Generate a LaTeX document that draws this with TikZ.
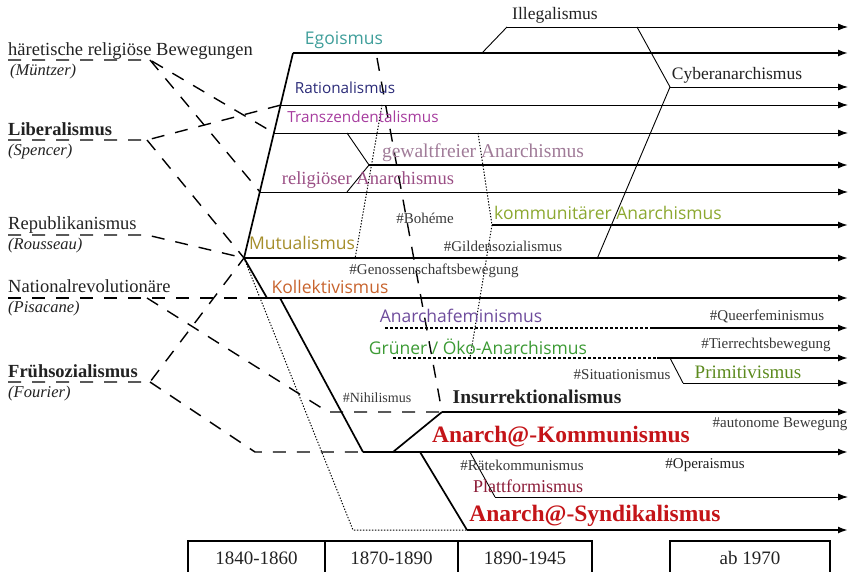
\documentclass[tikz,border=0pt]{standalone}
\usepackage{fontspec}
\setmainfont{Liberation Serif}
\newfontfamily\sansfam{Open Sans}
\usetikzlibrary{arrows.meta,positioning}

\definecolor{egocol}{HTML}{3F9E9A}
\definecolor{ratcol}{HTML}{2B2B78}
\definecolor{tracol}{HTML}{A63C9E}
\definecolor{gewcol}{HTML}{A07B98}
\definecolor{relcol}{HTML}{9A4E84}
\definecolor{gemcol}{HTML}{8CA830}
\definecolor{mutcol}{HTML}{A58E2A}
\definecolor{kolcol}{HTML}{C8642E}
\definecolor{femcol}{HTML}{6E4C9C}
\definecolor{oekcol}{HTML}{3C9A34}
\definecolor{pricol}{HTML}{5C8A1E}
\definecolor{redcol}{HTML}{C41418}
\definecolor{placol}{HTML}{8C1C38}
\definecolor{tagcol}{HTML}{383838}
\definecolor{inkcol}{HTML}{222222}

\begin{document}
\begin{tikzpicture}[x=1pt,y=-1pt,
		>={Latex[length=10pt,width=7pt]},
		every node/.style={inner sep=0pt,text=inkcol},
		src/.style={anchor=base west,font=\fontsize{18.5}{20}\selectfont},
		srcb/.style={anchor=base west,font=\fontsize{18.5}{20}\selectfont\bfseries},
		who/.style={anchor=base west,font=\fontsize{16.5}{18}\selectfont\itshape},
		trend/.style={font=\fontsize{17.5}{19}\selectfont\sansfam},
		trendsm/.style={font=\fontsize{15.3}{17}\selectfont\sansfam},
		branch/.style={font=\fontsize{18.5}{20}\selectfont},
		tag/.style={font=\fontsize{15}{17}\selectfont,text=tagcol},
		big/.style={font=\fontsize{23.5}{26}\selectfont\bfseries,text=redcol},
		infl/.style={line width=1.4pt,dash pattern=on 13pt off 11pt},
		trace/.style={line width=1pt,dash pattern=on 1.3pt off 1.7pt},
		weak/.style={line width=1.6pt,dash pattern=on 3pt off 2pt},
		side/.style={line width=0.9pt},
		main/.style={line width=1.7pt},
		heavy/.style={line width=2.5pt},
		year/.style={draw,line width=1.5pt,minimum height=34pt,font=\fontsize{19}{21}\selectfont}
	]
	\useasboundingbox (0,0) rectangle (856,572);

	\coordinate (R)    at (848,0);
	\coordinate (hub)  at (244,258);
	\coordinate (ego0) at (293,53);
	\coordinate (rat0) at (281,105);
	\coordinate (tra0) at (274,133);
	\coordinate (rel0) at (260,192);
	\coordinate (gew1) at (347,133);
	\coordinate (gew0) at (369,165);
	\coordinate (gew2) at (347,192);
	\coordinate (ill1) at (482,53);
	\coordinate (ill0) at (507,27);
	\coordinate (cyb1) at (637,27);
	\coordinate (cyb0) at (670,87);
	\coordinate (cyb2) at (597,259);
	\coordinate (mut1) at (382,105);
	\coordinate (mut2) at (355,259);
	\coordinate (gem1) at (478,133);
	\coordinate (gem0) at (492,225);
	\coordinate (gem2) at (470,358);
	\coordinate (kol0) at (250,298);
	\coordinate (kol1) at (267,298);
	\coordinate (kol2) at (280,298);
	\coordinate (kom0) at (363,452);
	\coordinate (fem0) at (385,328);
	\coordinate (fem1) at (650,328);
	\coordinate (oek0) at (393,358);
	\coordinate (oek1) at (657,358);
	\coordinate (pri1) at (670,358);
	\coordinate (pri0) at (683,383);
	\coordinate (ins1) at (393,452);
	\coordinate (ins0) at (442,412);
	\coordinate (nih0) at (328,412);
	\coordinate (ego2) at (377,58);
	\coordinate (syn1) at (420,452);
	\coordinate (syn0) at (467,530);
	\coordinate (syn2) at (353,530);
	\coordinate (pla1) at (470,452);
	\coordinate (pla0) at (495,497);
	\coordinate (haeL) at (8,60);
	\coordinate (haeK) at (150,60);
	\coordinate (libL) at (8,140);
	\coordinate (libK) at (147,140);
	\coordinate (repL) at (8,235);
	\coordinate (repK) at (147,235);
	\coordinate (natL) at (8,298);
	\coordinate (natK) at (147,298);
	\coordinate (fruL) at (8,382);
	\coordinate (fruK) at (150,382);
	\coordinate (fruB) at (255,452);

	\draw [infl] (haeL) -- (haeK) -- (tra0);
	\draw [infl] (haeK) -- (rel0);
	\draw [infl] (libL) -- (libK) -- (rat0);
	\draw [infl] (libK) -- (hub);
	\draw [infl] (repL) -- (repK) -- (hub);
	\draw [infl] (natL) -- (kol0);
	\draw [infl] (natK) -- (nih0) -- (ins0);
	\draw [infl] (fruL) -- (fruK) -- (hub);
	\draw [infl] (fruK) -- (fruB) -- (kom0);
	\draw [infl] (ego2) -- (ins0);

	\draw [trace] (mut1) -- (mut2);
	\draw [trace] (gem1) -- (gem0) -- (gem2);
	\draw [trace] (hub) -- (syn2) -- (syn0);
	\draw [weak] (fem0) -- (fem1);
	\draw [weak] (oek0) -- (oek1);

	\draw [main] (hub) -- (ego0);
	\draw [main] (hub) -- (kol1);
	\draw [main] (kol2) -- (kom0);
	\draw [side] (ill1) -- (ill0);
	\draw [side] (cyb1) -- (cyb0) -- (cyb2);
	\draw [side] (gew1) -- (gew0) -- (gew2);
	\draw [main] (ins1) -- (ins0);
	\draw [main] (syn1) -- (syn0);
	\draw [side] (pla1) -- (pla0);
	\draw [side] (pri1) -- (pri0);

	\draw [->,side]  (ill0) -- (ill0 -| R);
	\draw [->,main]  (ego0) -- (ego0 -| R);
	\draw [->,side]  (cyb0) -- (cyb0 -| R);
	\draw [->,side]  (rat0) -- (rat0 -| R);
	\draw [->,side]  (tra0) -- (tra0 -| R);
	\draw [->,main]  (gew0) -- (gew0 -| R);
	\draw [->,side]  (rel0) -- (rel0 -| R);
	\draw [->,main]  (gem0) -- (gem0 -| R);
	\draw [->,main]  (hub)  -- (hub -| R);
	\draw [->,main]  (kol0) -- (kol0 -| R);
	\draw [->,main]  (fem1) -- (fem1 -| R);
	\draw [->,main]  (oek1) -- (oek1 -| R);
	\draw [->,side]  (pri0) -- (pri0 -| R);
	\draw [->,main]  (ins0) -- (ins0 -| R);
	\draw [->,heavy] (kom0) -- (kom0 -| R);
	\draw [->,side]  (pla0) -- (pla0 -| R);
	\draw [->,heavy] (syn0) -- (syn0 -| R);

	\node [src]  (Hae)  at (8,56)  {häretische religiöse Bewegungen};
	\node [who]  (Muen) at (10,76) {(Müntzer)};
	\node [srcb] (Lib)  at (8,136) {Liberalismus};
	\node [who]  (Spe)  at (8,156) {(Spencer)};
	\node [src]  (Rep)  at (8,229) {Republikanismus};
	\node [who]  (Rou)  at (8,249) {(Rousseau)};
	\node [src]  (Nat)  at (8,292) {Nationalrevolutionäre};
	\node [who]  (Pis)  at (8,312) {(Pisacane)};
	\node [srcb] (Fru)  at (8,377) {Frühsozialismus};
	\node [who]  (Fou)  at (8,397) {(Fourier)};

	\node [branch,font=\fontsize{17.5}{19}\selectfont] (Ill) at (555,15) {Illegalismus};
	\node [trend,text=egocol]   (Ego) at (344,40)  {Egoismus};
	\node [branch,font=\fontsize{17.5}{19}\selectfont] (Cyb) at (737,75) {Cyberanarchismus};
	\node [trendsm,text=ratcol] (Rat) at (345,88)  {Rationalismus};
	\node [trendsm,text=tracol] (Tra) at (363,117) {Transzendentalismus};
	\node [branch,font=\fontsize{19.5}{21}\selectfont,text=gewcol] (Gew) at (483,153) {gewaltfreier Anarchismus};
	\node [branch,text=relcol]  (Rel) at (368,180) {religiöser Anarchismus};
	\node [tag]                 (Boh) at (425,218) {\#Bohéme};
	\node [trend,text=gemcol]   (Gem) at (608,213) {kommunitärer Anarchismus};
	\node [tag]                 (Gil) at (503,246) {\#Gildensozialismus};
	\node [trend,text=mutcol]   (Mut) at (302,243) {Mutualismus};
	\node [tag]                 (Gen) at (434,271) {\#Genossenschaftsbewegung};
	\node [trend,text=kolcol]   (Kol) at (330,287) {Kollektivismus};
	\node [trend,text=femcol]   (Fem) at (461,316) {Anarchafeminismus};
	\node [tag]                 (Que) at (767,316) {\#Queerfeminismus};
	\node [trend,text=oekcol]   (Oek) at (478,347) {Grüner / Öko-Anarchismus};
	\node [tag]                 (Tie) at (766,345) {\#Tierrechtsbewegung};
	\node [tag]                 (Sit) at (622,375) {\#Situationismus};
	\node [branch,font=\fontsize{19}{21}\selectfont,text=pricol] (Pri) at (748,372) {Primitivismus};
	\node [tag,font=\fontsize{14}{16}\selectfont] (Nih) at (377,398) {\#Nihilismus};
	\node [branch,font=\fontsize{19.5}{21}\selectfont\bfseries] (Ins) at (537,397) {Insurrektionalismus};
	\node [tag]                 (Aut) at (780,424) {\#autonome Bewegung};
	\node [big]                 (AKom) at (561,437) {Anarch@-Kommunismus};
	\node [tag]                 (Rae) at (522,465) {\#Rätekommunismus};
	\node [tag,text=inkcol]     (Ope) at (705,465) {\#Operaismus};
	\node [branch,font=\fontsize{18}{20}\selectfont,text=placol] (Pla) at (528,486) {Plattformismus};
	\node [big]                 (ASyn) at (595,516) {Anarch@-Syndikalismus};

	\node [year,minimum width=137pt] (Y1) at (256.5,558) {1840-1860};
	\node [year,minimum width=133pt] (Y2) at (391.5,558) {1870-1890};
	\node [year,minimum width=134pt] (Y3) at (525,558)   {1890-1945};
	\node [year,minimum width=160pt] (Y4) at (750,558)   {ab 1970};
\end{tikzpicture}
\end{document}
